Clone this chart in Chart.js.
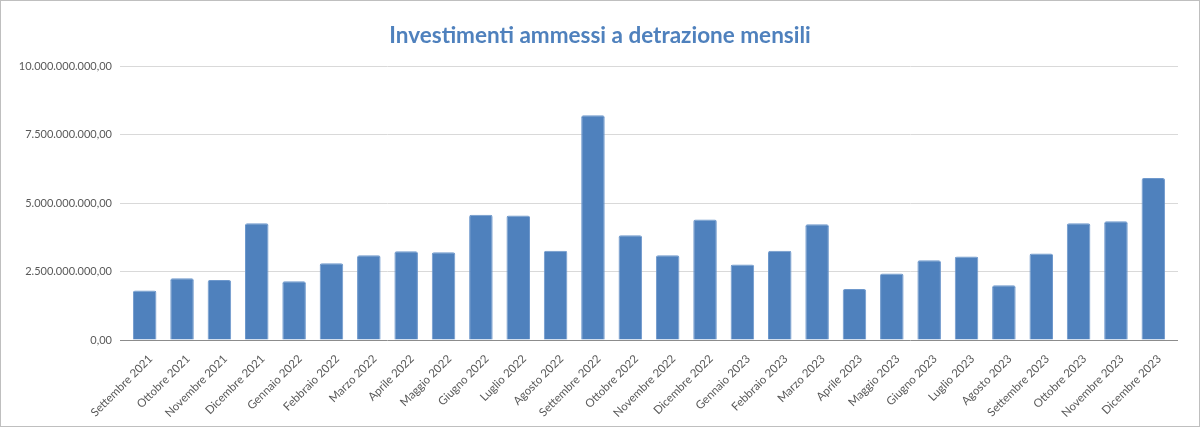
<!DOCTYPE html>
<html><head><meta charset="utf-8">
<script src="https://cdn.jsdelivr.net/npm/chart.js@4/dist/chart.umd.min.js"></script>
<style>html,body{margin:0;padding:0;background:#fff}#wrap{width:1200px;height:427px;position:relative}</style>
</head><body><div id="wrap"><canvas id="c" width="1200" height="427"></canvas></div>
<script>
const categories = ["Settembre 2021","Ottobre 2021","Novembre 2021","Dicembre 2021","Gennaio 2022","Febbraio 2022","Marzo 2022","Aprile 2022","Maggio 2022","Giugno 2022","Luglio 2022","Agosto 2022","Settembre 2022","Ottobre 2022","Novembre 2022","Dicembre 2022","Gennaio 2023","Febbraio 2023","Marzo 2023","Aprile 2023","Maggio 2023","Giugno 2023","Luglio 2023","Agosto 2023","Settembre 2023","Ottobre 2023","Novembre 2023","Dicembre 2023"];
const investimenti = [1.81e9,2.25e9,2.19e9,4.26e9,2.14e9,2.80e9,3.09e9,3.24e9,3.20e9,4.57e9,4.54e9,3.26e9,8.20e9,3.82e9,3.09e9,4.40e9,2.76e9,3.26e9,4.22e9,1.86e9,2.43e9,2.91e9,3.05e9,2.00e9,3.16e9,4.26e9,4.33e9,5.91e9];
const yTickValues = [0,2.5e9,5e9,7.5e9,10e9];
const titleText = "Investimenti ammessi a detrazione mensili";

function fmtIt(v){
  const neg = v < 0; v = Math.abs(v);
  const fixed = v.toFixed(2).split('.');
  const int = fixed[0].replace(/\B(?=(\d{3})+(?!\d))/g, '.');
  return (neg?'-':'') + int + ',' + fixed[1];
}
const yTickLabels = yTickValues.map(fmtIt);
const gridColor = (c) => (c.tick && c.tick.value === 0) ? '#8c8c8c' : '#d9d9d9';

const borderPlugin = {
  id:'frame',
  afterDraw(chart){
    const ctx = chart.ctx;
    ctx.save();
    ctx.strokeStyle = '#bfbfbf';
    ctx.lineWidth = 1;
    ctx.strokeRect(0.5,0.5,chart.width-1,chart.height-1);
    ctx.restore();
  }
};

new Chart(document.getElementById('c'), {
  type:'bar',
  data:{labels:categories, datasets:[{
    label:'Investimenti', data:investimenti,
    backgroundColor:'#4F81BD', borderColor:'#6E98CC', borderWidth:1,
    borderRadius:2, borderSkipped:'bottom',
    categoryPercentage:1, barPercentage:0.63
  }]},
  options:{
    responsive:false, animation:false,
    layout:{padding:{left:16,right:16,top:0,bottom:0}},
    plugins:{
      legend:{display:false}, tooltip:{enabled:false},
      title:{display:true, text:titleText, color:'#4F81BD',
        font:{family:'Lato', size:22.5, weight:'bold'}, padding:{top:22,bottom:17}}
    },
    scales:{
      x:{
        grid:{display:false}, border:{display:false},
        ticks:{color:'#595959', font:{family:'Lato', size:11.5}, maxRotation:45, minRotation:45, autoSkip:false, padding:4, labelOffset:6},
        afterFit(s){ s.height = 87; }
      },
      y:{
        min:0, max:10e9,
        afterBuildTicks(s){ s.ticks = yTickValues.map(v=>({value:v})); },
        grid:{color:gridColor, drawTicks:true, tickLength:6}, border:{display:false},
        ticks:{color:'#595959', font:{family:'Lato', size:11}, padding:8,
          callback(v){ const i = yTickValues.indexOf(v); return i>=0 ? yTickLabels[i] : ''; }},
        afterFit(s){ s.width = 110; }
      },
      y2:{
        position:'right', min:0, max:10e9,
        afterBuildTicks(s){ s.ticks = yTickValues.map(v=>({value:v})); },
        grid:{color:gridColor, drawOnChartArea:false, drawTicks:true, tickLength:6}, border:{display:false},
        ticks:{display:false},
        afterFit(s){ s.width = 12; }
      }
    }
  },
  plugins:[borderPlugin]
});
</script></body></html>
